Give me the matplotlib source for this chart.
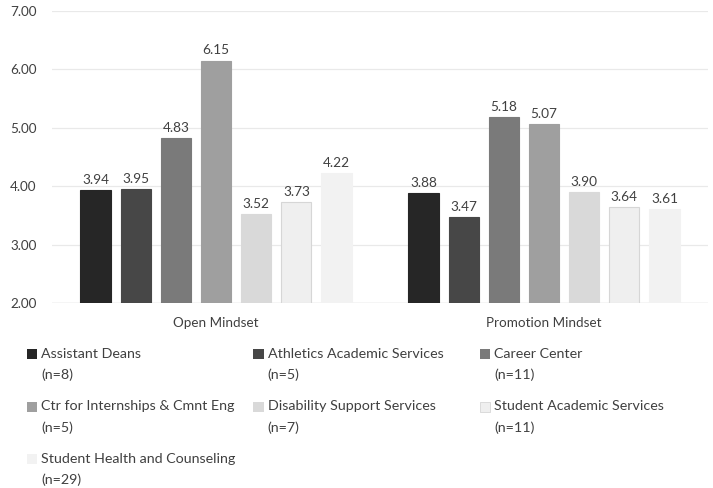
import matplotlib
matplotlib.use("Agg")
import matplotlib.pyplot as plt
from matplotlib.patches import Rectangle
import numpy as np

plt.rcParams["font.family"] = ["Lato", "DejaVu Sans"]

# survey means per office, two mindset scales
groups = ["Open Mindset", "Promotion Mindset"]
offices = [
    "Assistant Deans",
    "Athletics Academic Services",
    "Career Center",
    "Ctr for Internships & Cmnt Eng",
    "Disability Support Services",
    "Student Academic Services",
    "Student Health and Counseling",
]
n_sizes = [8, 5, 11, 5, 7, 11, 29]
open_vals = [3.94, 3.95, 4.83, 6.15, 3.52, 3.73, 4.22]
promo_vals = [3.88, 3.47, 5.18, 5.07, 3.90, 3.64, 3.61]
colors = ["#262626", "#474747", "#7a7a7a", "#9f9f9f", "#d9d9d9", "#efefef", "#f2f2f2"]
edges = ["#262626", "#474747", "#7a7a7a", "#9f9f9f", "#d9d9d9", "#d6d6d6", "#f2f2f2"]

W, H = 713, 488
fig = plt.figure(figsize=(W / 100, H / 100), dpi=100)
ax = fig.add_axes([52 / W, 185 / H, (708 - 52) / W, (303 - 11) / H])

x = np.arange(len(groups))
width = 0.092
step = 0.1225
for i, name in enumerate(offices):
    vals = [open_vals[i], promo_vals[i]]
    pos = x + (i - 3) * step
    bars = ax.bar(pos, np.array(vals) - 2, bottom=2, width=width,
                  color=colors[i], edgecolor=edges[i], linewidth=0.8, zorder=3)
    for b, v in zip(bars, vals):
        ax.annotate(f"{v:.2f}", (b.get_x() + b.get_width() / 2, v),
                    xytext=(0, 3), textcoords="offset points",
                    ha="center", va="bottom", fontsize=9.8, color="#404040")

ax.set_xlim(-0.5, 1.5)
ax.set_ylim(2, 7)
ax.set_yticks(np.arange(2, 7.01, 1))
ax.set_yticklabels([f"{v:.2f}" for v in np.arange(2, 7.01, 1)])
ax.set_xticks(x)
ax.set_xticklabels(groups)
ax.tick_params(axis="both", length=0, labelsize=9.7, labelcolor="#404040")
ax.tick_params(axis="y", pad=11)
ax.tick_params(axis="x", pad=10)
for s in ax.spines.values():
    s.set_visible(False)
ax.grid(axis="y", color="#e9e9e9", linewidth=0.9, zorder=0)
ax.axhline(2, color="#d9d9d9", linewidth=1.0, zorder=2)

# legend laid out in three columns, label on two lines
for i, name in enumerate(offices):
    col, row = i % 3, i // 3
    px = 27 + col * 226.5
    py = 354 + row * 52.5
    fig.add_artist(Rectangle((px / W, 1 - (py + 5) / H), 10 / W, 10 / H,
                             transform=fig.transFigure, facecolor=colors[i],
                             edgecolor=edges[i] if i == 5 else "none",
                             linewidth=0.6))
    fig.text((px + 14) / W, 1 - py / H, name, fontsize=10.3, color="#404040",
             va="center", ha="left")
    fig.text((px + 14) / W, 1 - (py + 21) / H, f"(n={n_sizes[i]})", fontsize=10.3,
             color="#404040", va="center", ha="left")

fig.savefig("out.png", dpi=100)
